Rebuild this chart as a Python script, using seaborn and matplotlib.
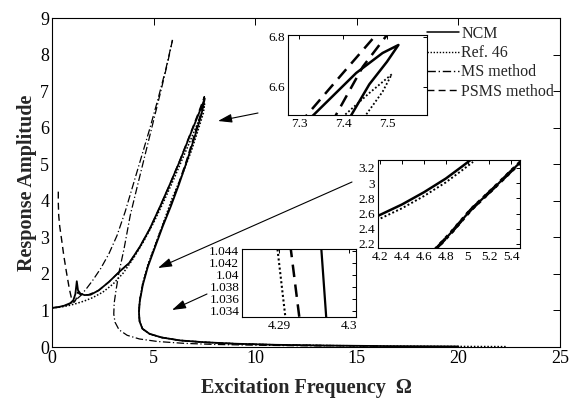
import numpy as np
import pandas as pd
import seaborn as sns
import matplotlib
matplotlib.use("Agg")
import matplotlib.pyplot as plt
from matplotlib.lines import Line2D

# ---------------- data ----------------
# NCM (solid)
ncm_x = [0.0, 0.3, 0.6, 0.9, 1.05, 1.15, 1.22, 1.28, 1.4, 1.6, 1.9, 2.3, 2.8, 3.3, 3.8, 4.3, 4.8, 5.3, 5.8,
         6.3, 6.8, 7.2, 7.52, 7.35, 7.05, 6.65, 6.25, 5.85, 5.45, 5.05, 4.72, 4.47, 4.32, 4.28, 4.31, 4.45,
         4.8, 5.4, 6.3, 7.5, 9.0, 11.0, 13.5, 16.5, 20.0]
ncm_y = [1.07, 1.09, 1.13, 1.2, 1.28, 1.45, 1.8, 1.55, 1.46, 1.42, 1.43, 1.55, 1.78, 2.05, 2.3, 2.72, 3.22,
         3.82, 4.45, 5.1, 5.8, 6.35, 6.8, 6.35, 5.8, 5.1, 4.45, 3.85, 3.3, 2.7, 2.2, 1.7, 1.25, 0.95, 0.7,
         0.5, 0.36, 0.26, 0.18, 0.13, 0.09, 0.06, 0.04, 0.025, 0.015]
# Ref. 46 (dotted)
ref_x = [0.0, 0.4, 0.8, 1.2, 1.6, 2.0, 2.5, 3.0, 3.5, 4.0, 4.5, 5.0, 5.5, 6.0, 6.5, 7.0, 7.3, 7.51, 7.45,
         7.2, 6.85, 6.4, 5.9, 5.45, 5.05, 4.72, 4.47, 4.32, 4.28, 4.31, 4.45, 4.8, 5.4, 6.3, 7.5, 9.0, 11.0,
         13.5, 16.5, 20.0, 22.4]
ref_y = [1.07, 1.09, 1.13, 1.19, 1.26, 1.35, 1.5, 1.72, 2.02, 2.42, 2.88, 3.4, 3.98, 4.6, 5.25, 5.9, 6.3,
         6.65, 6.4, 5.95, 5.35, 4.7, 4.05, 3.35, 2.75, 2.25, 1.75, 1.28, 0.97, 0.71, 0.5, 0.36, 0.26, 0.18,
         0.13, 0.09, 0.06, 0.04, 0.025, 0.015, 0.01]
# MS method (dash-dot), two branches
ms_left_x = [0.0, 0.4, 0.8, 1.1, 1.4, 1.7, 2.0, 2.4, 2.8, 3.2, 3.6, 4.0, 4.4, 4.8, 5.2, 5.6, 5.93]
ms_left_y = [1.07, 1.1, 1.16, 1.25, 1.4, 1.6, 1.82, 2.15, 2.55, 3.05, 3.7, 4.45, 5.2, 5.95, 6.75, 7.6, 8.4]
ms_right_x = [5.93, 5.7, 5.4, 5.0, 4.6, 4.2, 3.85, 3.55, 3.3, 3.15, 3.06, 3.04, 3.1, 3.3, 3.7, 4.3, 5.2,
              6.5, 8.0, 10.0, 12.0, 13.6]
ms_right_y = [8.4, 7.8, 7.1, 6.2, 5.3, 4.4, 3.6, 2.7, 2.05, 1.55, 1.2, 0.9, 0.68, 0.47, 0.32, 0.22, 0.15,
              0.1, 0.07, 0.05, 0.035, 0.03]
# PSMS method (dashed)
psms_x = [0.31, 0.31, 0.33, 0.38, 0.47, 0.58, 0.71, 0.85, 0.97, 1.08, 1.18, 1.26, 1.35, 1.5, 1.8, 2.3, 2.8,
          3.3, 3.8, 4.3, 4.8, 5.3, 5.8, 6.3, 6.8, 7.2, 7.5, 7.33, 7.03, 6.63, 6.23, 5.83, 5.43, 5.03, 4.71,
          4.46, 4.31, 4.28, 4.31, 4.45, 4.8, 5.4, 6.3, 7.5, 9.0, 11.0, 13.5, 16.0]
psms_y = [4.25, 3.95, 3.6, 3.3, 2.95, 2.5, 2.05, 1.6, 1.3, 1.22, 1.3, 1.5, 1.45, 1.42, 1.43, 1.55, 1.78,
          2.05, 2.3, 2.72, 3.22, 3.82, 4.45, 5.12, 5.83, 6.4, 6.85, 6.4, 5.85, 5.12, 4.47, 3.87, 3.31, 2.71,
          2.21, 1.71, 1.26, 0.96, 0.7, 0.5, 0.36, 0.26, 0.18, 0.13, 0.09, 0.06, 0.04, 0.025]

# Inset 1 (peak region)
in1_ncm_x = [7.31, 7.333, 7.43, 7.49, 7.526, 7.50, 7.46, 7.419, 7.405]
in1_ncm_y = [6.45, 6.487, 6.655, 6.735, 6.767, 6.70, 6.61, 6.487, 6.45]
in1_ref_x = [7.39, 7.404, 7.46, 7.511, 7.49, 7.452, 7.44]
in1_ref_y = [6.45, 6.487, 6.575, 6.65, 6.58, 6.487, 6.45]
in1_psms_up_x = [7.30, 7.318, 7.40, 7.475, 7.49]
in1_psms_up_y = [6.45, 6.487, 6.655, 6.807, 6.84]
in1_psms_lo_x = [7.375, 7.384, 7.445, 7.50, 7.51]
in1_psms_lo_y = [6.45, 6.487, 6.68, 6.807, 6.84]

# Inset 2 (upper / middle branch)
in2_up_x = [4.10, 4.18, 4.4, 4.6, 4.8, 4.95, 5.05]
in2_ncm_up_y = [2.51, 2.57, 2.72, 2.88, 3.06, 3.22, 3.33]
in2_ref_up_y = [2.46, 2.52, 2.67, 2.83, 3.01, 3.17, 3.28]
in2_mid_x = [4.70, 4.85, 5.03, 5.25, 5.50]
in2_mid_y = [2.12, 2.35, 2.65, 2.95, 3.30]

# Inset 3 (turning point)
in3_y = [1.0450, 1.0320]
in3_ref_x = [4.2897, 4.2910]
in3_psms_x = [4.2916, 4.2930]
in3_ncm_x = [4.2960, 4.2968]

labels = ["NCM", "Ref. 46", "MS method", "PSMS method"]

# ---------------- style ----------------
sns.set_theme(style="white")
plt.rcParams["font.family"] = ["Liberation Serif", "DejaVu Serif"]
plt.rcParams["axes.edgecolor"] = "black"
plt.rcParams["axes.linewidth"] = 0.8

fig = plt.figure(figsize=(5.77, 3.99), dpi=100)
W, H = 577.0, 399.0


def box(l, r, t, b):
    return [l / W, 1 - b / H, (r - l) / W, (b - t) / H]


def matlab_ticks(ax, size, length=4):
    ax.tick_params(direction="in", top=True, right=True, length=length, width=0.7,
                   labelsize=size, pad=2, colors="black")
    for s in ax.spines.values():
        s.set_color("black")
        s.set_linewidth(0.8)


def curve(ax, x, y, ls, lw):
    df = pd.DataFrame({"x": x, "y": y})
    sns.lineplot(data=df, x="x", y="y", sort=False, estimator=None, color="black",
                 linestyle=ls, linewidth=lw, ax=ax, legend=False)


SOLID = "-"
DOT = (0, (1, 1.2))
DASHDOT = (0, (6, 2, 1, 2))
DASH = (0, (5, 3))

# ---------------- main axes ----------------
ax = fig.add_axes(box(52, 560, 18, 347))
curve(ax, ref_x, ref_y, DOT, 1.1)
curve(ax, ms_left_x, ms_left_y, DASHDOT, 0.9)
curve(ax, ms_right_x, ms_right_y, DASHDOT, 0.9)
curve(ax, psms_x, psms_y, DASH, 1.0)
curve(ax, ncm_x, ncm_y, SOLID, 1.3)
ax.set_xlim(0, 25)
ax.set_ylim(0, 9)
ax.set_xticks([0, 5, 10, 15, 20, 25])
ax.set_yticks(range(10))
matlab_ticks(ax, 13, 5)
ax.set_xlabel("Excitation Frequency  Ω", fontsize=14.5, fontweight="bold", labelpad=8)
ax.set_ylabel("Response Amplitude", fontsize=14.5, fontweight="bold", labelpad=2)

# legend
handles = [Line2D([], [], color="black", linestyle=SOLID, linewidth=1.1),
           Line2D([], [], color="black", linestyle=DOT, linewidth=1.0),
           Line2D([], [], color="black", linestyle=DASHDOT, linewidth=1.0),
           Line2D([], [], color="black", linestyle=DASH, linewidth=1.0)]
fig.legend(handles, labels, loc="upper left", bbox_to_anchor=(427 / W, 1 - 26 / H),
           frameon=False, fontsize=11.5, handlelength=2.0, handletextpad=0.15,
           labelspacing=0.2, borderpad=0, borderaxespad=0)

# arrows (from insets to the curves)
arrow_kw = dict(arrowstyle="-|>,head_length=0.7,head_width=0.22", color="black", lw=0.8,
                shrinkA=0, shrinkB=0)
ax.annotate("", xy=(218 / W, 1 - 121 / H), xytext=(258 / W, 1 - 113 / H),
            xycoords="figure fraction", textcoords="figure fraction", arrowprops=arrow_kw)
ax.annotate("", xy=(158 / W, 1 - 268 / H), xytext=(352 / W, 1 - 182 / H),
            xycoords="figure fraction", textcoords="figure fraction", arrowprops=arrow_kw)
ax.annotate("", xy=(172 / W, 1 - 310 / H), xytext=(207 / W, 1 - 294 / H),
            xycoords="figure fraction", textcoords="figure fraction", arrowprops=arrow_kw)

# ---------------- inset 1 ----------------
a1 = fig.add_axes(box(288, 427, 35, 115))
curve(a1, in1_ref_x, in1_ref_y, DOT, 1.3)
curve(a1, in1_psms_up_x, in1_psms_up_y, DASH, 1.8)
curve(a1, in1_psms_lo_x, in1_psms_lo_y, DASH, 1.8)
curve(a1, in1_ncm_x, in1_ncm_y, SOLID, 1.8)
a1.set_xlim(7.275, 7.591)
a1.set_ylim(6.487, 6.807)
a1.set_xticks([7.3, 7.4, 7.5])
a1.set_yticks([6.6, 6.8])
a1.set_xticklabels(["7.3", "7.4", "7.5"])
a1.set_yticklabels(["6.6", "6.8"])
matlab_ticks(a1, 9.5, 3)
a1.set_xlabel("")
a1.set_ylabel("")

# ---------------- inset 2 ----------------
a2 = fig.add_axes(box(378, 520, 160, 248))
curve(a2, in2_up_x, in2_ref_up_y, DOT, 1.4)
curve(a2, in2_up_x, in2_ncm_up_y, SOLID, 1.8)
curve(a2, in2_mid_x, in2_mid_y, DOT, 2.6)
curve(a2, in2_mid_x, in2_mid_y, DASH, 2.2)
curve(a2, in2_mid_x, in2_mid_y, SOLID, 1.6)
a2.set_xlim(4.18, 5.48)
a2.set_ylim(2.147, 3.305)
a2.set_xticks([4.2, 4.4, 4.6, 4.8, 5.0, 5.2, 5.4])
a2.set_xticklabels(["4.2", "4.4", "4.6", "4.8", "5", "5.2", "5.4"])
a2.set_yticks([2.2, 2.4, 2.6, 2.8, 3.0, 3.2])
a2.set_yticklabels(["2.2", "2.4", "2.6", "2.8", "3", "3.2"])
matlab_ticks(a2, 9.5, 3)
a2.set_xlabel("")
a2.set_ylabel("")

# ---------------- inset 3 ----------------
a3 = fig.add_axes(box(242, 356, 249, 317))
curve(a3, in3_ref_x, in3_y, DOT, 1.5)
curve(a3, in3_psms_x, in3_y, DASH, 1.8)
curve(a3, in3_ncm_x, in3_y, SOLID, 1.6)
a3.set_xlim(4.2847, 4.301)
a3.set_ylim(1.0330, 1.0443)
a3.set_xticks([4.29, 4.30])
a3.set_xticklabels(["4.29", "4.3"])
a3.set_yticks([1.034, 1.036, 1.038, 1.040, 1.042, 1.044])
a3.set_yticklabels(["1.034", "1.036", "1.038", "1.04", "1.042", "1.044"])
matlab_ticks(a3, 9.5, 3)
a3.set_xlabel("")
a3.set_ylabel("")

fig.savefig("out.png", dpi=100)
